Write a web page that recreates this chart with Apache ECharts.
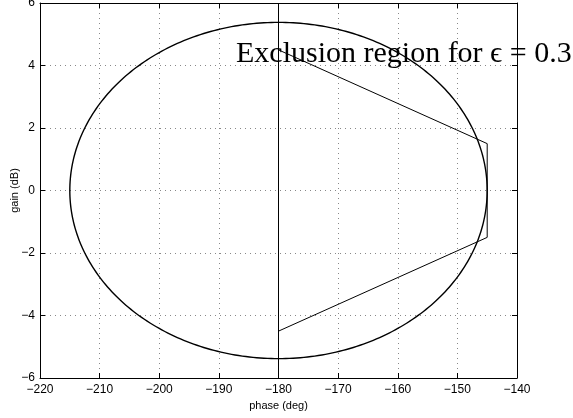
<!DOCTYPE html>
<html><head><meta charset="utf-8">
<script src="https://cdn.jsdelivr.net/npm/echarts@6/dist/echarts.min.js"></script>
<style>html,body{margin:0;padding:0;background:#fff}#c{width:573px;height:418px}</style>
</head><body><div id="c"></div>
<script>
// Data
var xTicks = [-220, -210, -200, -190, -180, -170, -160, -150, -140];
var yTicks = [-6, -4, -2, 0, 2, 4, 6];
// ellipse: [centerPhase, centerGain, halfWidthDeg, halfHeightDb]
var ellipseData = [[-180, 0, 35, 5.38]];
var regionPolygon = [[-180, 4.5], [-145, 1.5], [-145, -1.5], [-180, -4.5]];
var verticalLine = [[-180, -6], [-180, 6]];
var labelText = 'Exclusion region for \u03F5 = 0.3';

var minus = function (v) { return String(v).replace('-', '\u2212'); };
var chart = echarts.init(document.getElementById('c'));
var axisLine = { show: true, onZero: false, lineStyle: { color: '#000', width: 1 } };
var tick = { show: true, inside: true, length: 5, lineStyle: { color: '#000' } };
var split = { show: true, lineStyle: { color: '#888', type: [1, 4], width: 1 } };
var lab = { color: '#000', fontSize: 12, fontFamily: 'Liberation Sans' };
chart.setOption({
  animation: false,
  grid: { left: 40, right: 56, top: 3, bottom: 40, containLabel: false, outerBoundsMode: 'none' },
  xAxis: [
    { type: 'value', min: xTicks[0], max: xTicks[xTicks.length - 1], interval: 10,
      axisLine: axisLine, axisTick: tick, splitLine: split,
      axisLabel: Object.assign({ formatter: minus, margin: 6 }, lab),
      name: 'phase (deg)', nameLocation: 'middle', nameGap: 22, nameMoveOverlap: false,
      nameTextStyle: { color: '#000', fontSize: 11, fontFamily: 'Liberation Sans' } },
    { type: 'value', position: 'top', min: xTicks[0], max: xTicks[xTicks.length - 1], interval: 10,
      axisLine: axisLine, axisTick: tick, splitLine: { show: false }, axisLabel: { show: false } }
  ],
  yAxis: [
    { type: 'value', min: yTicks[0], max: yTicks[yTicks.length - 1], interval: 2,
      axisLine: axisLine, axisTick: tick, splitLine: split,
      axisLabel: Object.assign({ formatter: minus, margin: 5 }, lab),
      name: 'gain (dB)', nameLocation: 'middle', nameGap: 20, nameMoveOverlap: false,
      nameTextStyle: { color: '#000', fontSize: 11, fontFamily: 'Liberation Sans' } },
    { type: 'value', position: 'right', min: yTicks[0], max: yTicks[yTicks.length - 1], interval: 2,
      axisLine: axisLine, axisTick: tick, splitLine: { show: false }, axisLabel: { show: false } }
  ],
  title: { text: labelText, left: 236, top: 39, padding: 0,
    textStyle: { fontFamily: 'Liberation Serif', fontSize: 30, fontWeight: 'normal', color: '#000' } },
  series: [
    { type: 'custom', data: ellipseData, z: 3,
      renderItem: function (params, api) {
        var c = api.coord([api.value(0), api.value(1)]);
        var s = api.size([api.value(2), api.value(3)]);
        var pts = [];
        for (var i = 0; i <= 360; i++) {
          var t = i * Math.PI / 180;
          pts.push([c[0] + s[0] * Math.cos(t), c[1] - s[1] * Math.sin(t)]);
        }
        return { type: 'polyline', shape: { points: pts },
          style: { stroke: '#000', lineWidth: 1.4, fill: null } };
      } },
    { type: 'line', data: regionPolygon, symbol: 'none', lineStyle: { color: '#000', width: 1 } },
    { type: 'line', data: verticalLine, symbol: 'none', lineStyle: { color: '#000', width: 1 } }
  ]
});
</script></body></html>
